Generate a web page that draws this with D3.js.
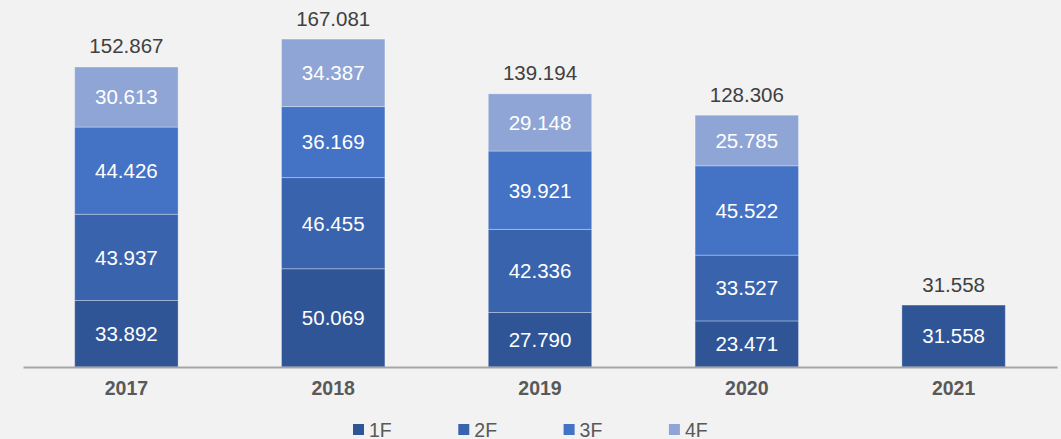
<!DOCTYPE html>
<meta charset="utf-8">
<script src="https://d3js.org/d3.v7.min.js"></script>
<style>
  body { margin: 0; background: #f2f2f2; }
  svg { display: block; font-family: Arial, "Liberation Sans", sans-serif; }
</style>
<div id="chart"></div>
<script>

// data
var years  = ["2017", "2018", "2019", "2020", "2021"];
var series = ["1F", "2F", "3F", "4F"];
var v1F = [33.892, 50.069, 27.790, 23.471, 31.558];
var v2F = [43.937, 46.455, 42.336, 33.527, 0];
var v3F = [44.426, 36.169, 39.921, 45.522, 0];
var v4F = [30.613, 34.387, 29.148, 25.785, 0];
var totals = [152.867, 167.081, 139.194, 128.306, 31.558];
var colors = ["#2f5597", "#3a63ad", "#4472c4", "#8fa5d6"];

var width = 1061, height = 439;
var baseY = 367;

var data = years.map(function(y, i) {
  return {year: y, "1F": v1F[i], "2F": v2F[i], "3F": v3F[i], "4F": v4F[i], total: totals[i]};
});

var svg = d3.select("#chart").append("svg")
  .attr("width", width)
  .attr("height", height);

svg.append("rect").attr("width", width).attr("height", height).attr("fill", "#f2f2f2");

var x = d3.scaleBand()
  .domain(years)
  .range([23, 1057])
  .paddingInner(0.5)
  .paddingOuter(0.25);

var y = d3.scaleLinear()
  .domain([0, 180])
  .range([baseY, baseY - 353.25]);

var color = d3.scaleOrdinal().domain(series).range(colors);

var stacked = d3.stack().keys(series)(data);

// bars
var layer = svg.append("g")
  .selectAll("g")
  .data(stacked)
  .join("g")
    .attr("fill", function(d) { return color(d.key); });

layer.selectAll("rect")
  .data(function(d) { return d.filter(function(s) { return s[1] - s[0] > 0; }); })
  .join("rect")
    .attr("x", function(d) { return x(d.data.year); })
    .attr("y", function(d) { return y(d[1]); })
    .attr("width", x.bandwidth())
    .attr("height", function(d) { return y(d[0]) - y(d[1]); })
    .attr("stroke", "#ffffff")
    .attr("stroke-opacity", 0.3)
    .attr("stroke-width", 1);

// value labels inside segments
layer.selectAll("text")
  .data(function(d) { return d.filter(function(s) { return s[1] - s[0] > 0; }).map(function(s) { s.key = d.key; return s; }); })
  .join("text")
    .attr("x", function(d) { return x(d.data.year) + x.bandwidth() / 2; })
    .attr("y", function(d) { return (y(d[0]) + y(d[1])) / 2; })
    .attr("dy", "0.36em")
    .attr("text-anchor", "middle")
    .attr("fill", "#ffffff")
    .style("font-size", "20.5px")
    .text(function(d) { return d3.format(".3f")(d[1] - d[0]); });

// totals
svg.append("g")
  .selectAll("text")
  .data(data)
  .join("text")
    .attr("x", function(d) { return x(d.year) + x.bandwidth() / 2; })
    .attr("y", function(d) { return y(d.total) - 13.5; })
    .attr("text-anchor", "middle")
    .attr("fill", "#404040")
    .style("font-size", "20.5px")
    .text(function(d) { return d3.format(".3f")(d.total); });

// x axis
var xAxis = svg.append("g")
  .attr("transform", "translate(0," + baseY + ")")
  .call(d3.axisBottom(x).tickSize(0).tickPadding(14));
xAxis.select(".domain").attr("stroke", "#a5a5a5").attr("stroke-width", 2);
xAxis.selectAll("text")
  .attr("fill", "#595959")
  .style("font-size", "19.5px")
  .style("font-weight", "bold")
  .style("font-family", "Arial, 'Liberation Sans', sans-serif");

// legend
var legend = svg.append("g")
  .selectAll("g")
  .data(series)
  .join("g")
    .attr("transform", function(d, i) { return "translate(" + (353 + i * 105.3) + ",424)"; });

legend.append("rect")
  .attr("width", 11)
  .attr("height", 11)
  .attr("fill", function(d) { return color(d); });

legend.append("text")
  .attr("x", 16)
  .attr("y", 13)
  .attr("fill", "#595959")
  .style("font-size", "19.5px")
  .text(function(d) { return d; });

</script>
